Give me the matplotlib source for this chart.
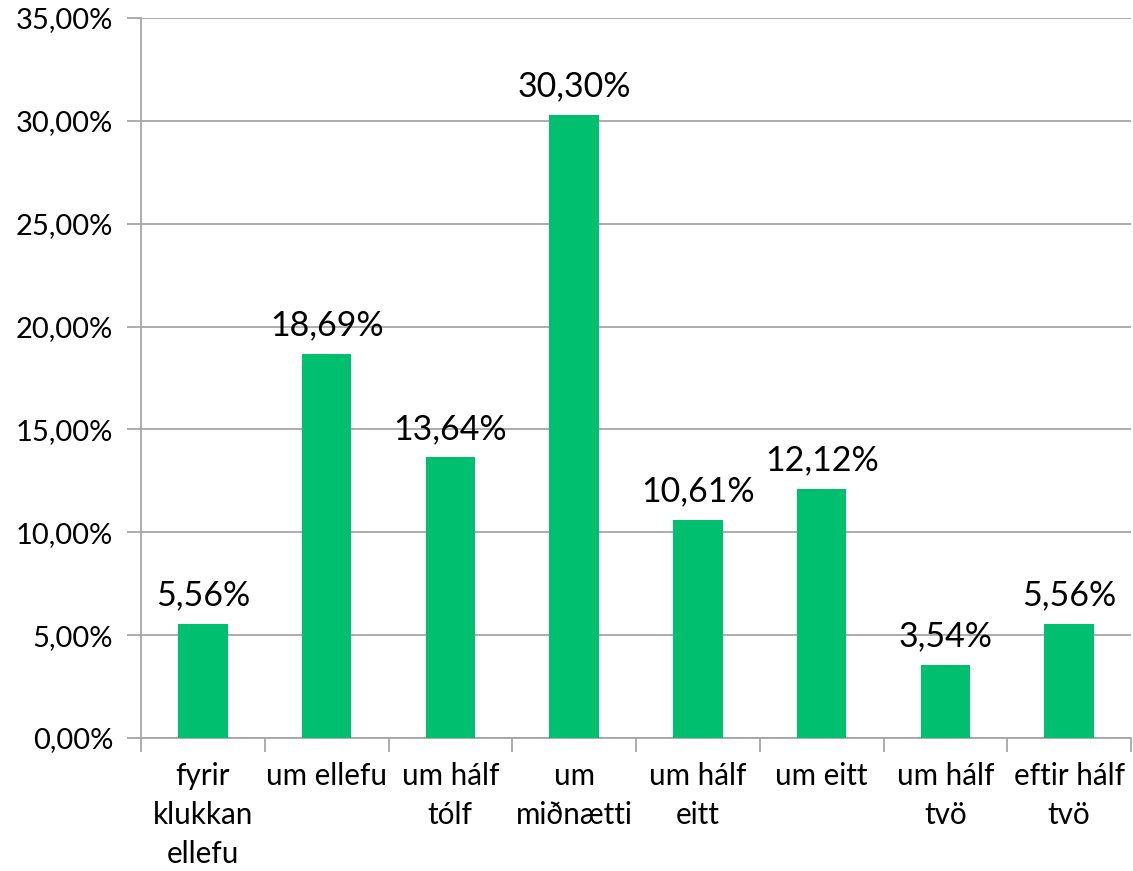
import matplotlib.pyplot as plt
import numpy as np

# Data
categories = ['fyrir\nklukkan\nellefu', 'um ellefu', 'um hálf\ntólf', 'um\nmiðnætti',
              'um hálf\neitt', 'um eitt', 'um hálf\ntvö', 'eftir hálf\ntvö']
values = [5.56, 18.69, 13.64, 30.30, 10.61, 12.12, 3.54, 5.56]
y_ticks = [0, 5, 10, 15, 20, 25, 30, 35]

plt.rcParams['font.family'] = ['Lato', 'DejaVu Sans']

fig = plt.figure(figsize=(11.33, 8.71), dpi=100)
ax = fig.add_axes([141/1133, 133/871, 990/1133, 720/871])

x = np.arange(len(categories))
bars = ax.bar(x, values, width=0.4, color='#00BF6F', zorder=3)

# data labels with comma decimals
ax.bar_label(bars, labels=[f'{v:.2f}%'.replace('.', ',') for v in values],
             padding=9, fontsize=24.5, color='#000000')

ax.set_ylim(0, 35)
ax.set_xlim(-0.5, len(categories) - 0.5)
ax.set_yticks(y_ticks)
ax.set_yticklabels([f'{t:.2f}%'.replace('.', ',') for t in y_ticks], fontsize=21)
ax.yaxis.grid(True, color='#A6A6A6', linewidth=1.3, zorder=0)
ax.tick_params(axis='y', length=10, width=1.3, color='#A6A6A6', pad=10)

ax.set_xticks(x)
ax.set_xticklabels(categories, fontsize=21.3, linespacing=1.48)
ax.tick_params(axis='x', which='major', length=0, pad=17)
ax.set_xticks(np.arange(-0.5, len(categories)), minor=True)
ax.tick_params(axis='x', which='minor', length=10, width=1.3, color='#A6A6A6')

for side in ['top', 'right']:
    ax.spines[side].set_visible(False)
for side in ['left', 'bottom']:
    ax.spines[side].set_color('#A6A6A6')
    ax.spines[side].set_linewidth(1.3)

fig.savefig('out.png', dpi=100)
